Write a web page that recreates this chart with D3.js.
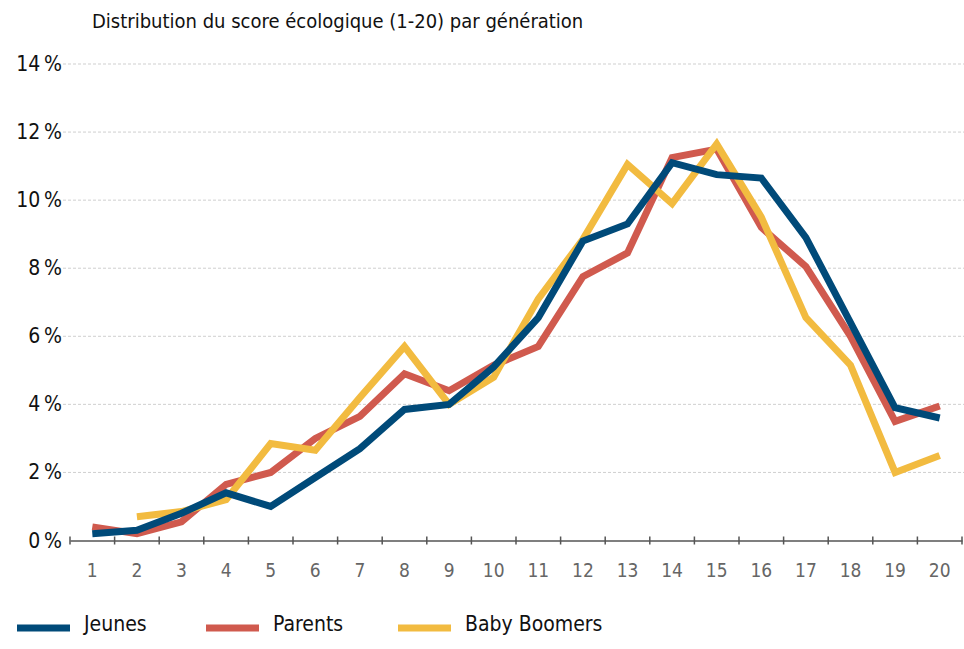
<!DOCTYPE html>
<html>
<head>
<meta charset="utf-8">
<script src="https://cdn.jsdelivr.net/npm/d3@7"></script>
<style>
  body { margin: 0; background: #fff; }
  text { font-family: "Liberation Sans Narrow", "DejaVu Sans Condensed", "Roboto", sans-serif; }
</style>
</head>
<body>
<script>
  //chart data
  var categories = ["1","2","3","4","5","6","7","8","9","10","11","12","13","14","15","16","17","18","19","20"];
  var yTicks = [0, 2, 4, 6, 8, 10, 12, 14];
  var jeunes = [0.2,0.3,0.8,1.4,1.0,1.85,2.7,3.85,4.0,5.1,6.55,8.8,9.3,11.1,10.75,10.65,8.9,6.4,3.9,3.6];
  var parents = [0.4,0.2,0.55,1.65,2.0,3.0,3.65,4.9,4.4,5.15,5.7,7.75,8.45,11.25,11.5,9.2,8.05,6.0,3.5,3.95];
  var boomers = [null,0.7,0.85,1.2,2.85,2.65,4.2,5.7,4.0,4.8,7.1,8.85,11.05,9.9,11.65,9.5,6.55,5.15,2.0,2.5];
  var seriesNames = ["Jeunes", "Parents", "Baby Boomers"];
  var seriesColors = ["#004a79", "#d05a4e", "#f2bb40"];

  var width = 964, height = 649;

  var svg = d3.select("body").append("svg")
      .attr("width", width)
      .attr("height", height);

  var x = d3.scaleBand()
      .domain(categories)
      .range([70, 962]);

  var y = d3.scaleLinear()
      .domain([0, 14])
      .range([540.5, 64]);

  //title
  svg.append("text")
      .attr("x", 92)
      .attr("y", 28)
      .attr("font-size", 20)
      .attr("fill", "#111")
      .text("Distribution du score écologique (1-20) par génération");

  //gridlines
  svg.selectAll(".grid")
      .data(yTicks.filter(function(d){ return d > 0; }))
      .enter()
      .append("line")
      .attr("class", "grid")
      .attr("x1", 58)
      .attr("x2", 964)
      .attr("y1", function(d){ return y(d); })
      .attr("y2", function(d){ return y(d); })
      .attr("stroke", "#cfcfcf")
      .attr("stroke-width", 1)
      .attr("stroke-dasharray", "3,2");

  //y labels
  svg.selectAll(".ylab")
      .data(yTicks)
      .enter()
      .append("text")
      .attr("class", "ylab")
      .attr("x", 62)
      .attr("y", function(d){ return y(d) + 7; })
      .attr("text-anchor", "end")
      .attr("font-size", 21)
      .attr("fill", "#111")
      .text(function(d){ return d + "\u2009%"; });

  //x axis
  var xAxis = d3.axisBottom(x).tickSize(7).tickSizeOuter(0).tickFormat("");
  var gx = svg.append("g")
      .attr("transform", "translate(0," + y(0) + ")");
  gx.call(xAxis);
  gx.select(".domain").attr("stroke", "#555").attr("stroke-width", 1.5);
  //ticks sit between the categories
  gx.selectAll(".tick").remove();
  var edges = categories.map(function(c){ return x(c); }).concat([x.range()[1]]);
  gx.selectAll(".edge")
      .data(edges)
      .enter()
      .append("line")
      .attr("class", "edge")
      .attr("x1", function(d){ return d; })
      .attr("x2", function(d){ return d; })
      .attr("y1", -4)
      .attr("y2", 4)
      .attr("stroke", "#555")
      .attr("stroke-width", 1.5);

  svg.selectAll(".xlab")
      .data(categories)
      .enter()
      .append("text")
      .attr("class", "xlab")
      .attr("x", function(d){ return x(d) + x.bandwidth() / 2; })
      .attr("y", 577)
      .attr("text-anchor", "middle")
      .attr("font-size", 19)
      .attr("fill", "#666")
      .text(function(d){ return d; });

  //lines
  var line = d3.line()
      .defined(function(d){ return d != null; })
      .x(function(d, i){ return x(categories[i]) + x.bandwidth() / 2; })
      .y(function(d){ return y(d); });

  var drawOrder = [1, 2, 0];
  var allSeries = [jeunes, parents, boomers];
  drawOrder.forEach(function(k){
    svg.append("path")
        .datum(allSeries[k])
        .attr("d", line)
        .attr("fill", "none")
        .attr("stroke", seriesColors[k])
        .attr("stroke-width", 7)
        .attr("stroke-linejoin", "miter");
  });

  //legend
  var legendX = [17, 206, 398];
  seriesNames.forEach(function(name, i){
    svg.append("line")
        .attr("x1", legendX[i])
        .attr("x2", legendX[i] + 53)
        .attr("y1", 628)
        .attr("y2", 628)
        .attr("stroke", seriesColors[i])
        .attr("stroke-width", 7);
    svg.append("text")
        .attr("x", legendX[i] + 67)
        .attr("y", 631)
        .attr("font-size", 21)
        .attr("fill", "#111")
        .text(name);
  });
</script>
</body>
</html>
